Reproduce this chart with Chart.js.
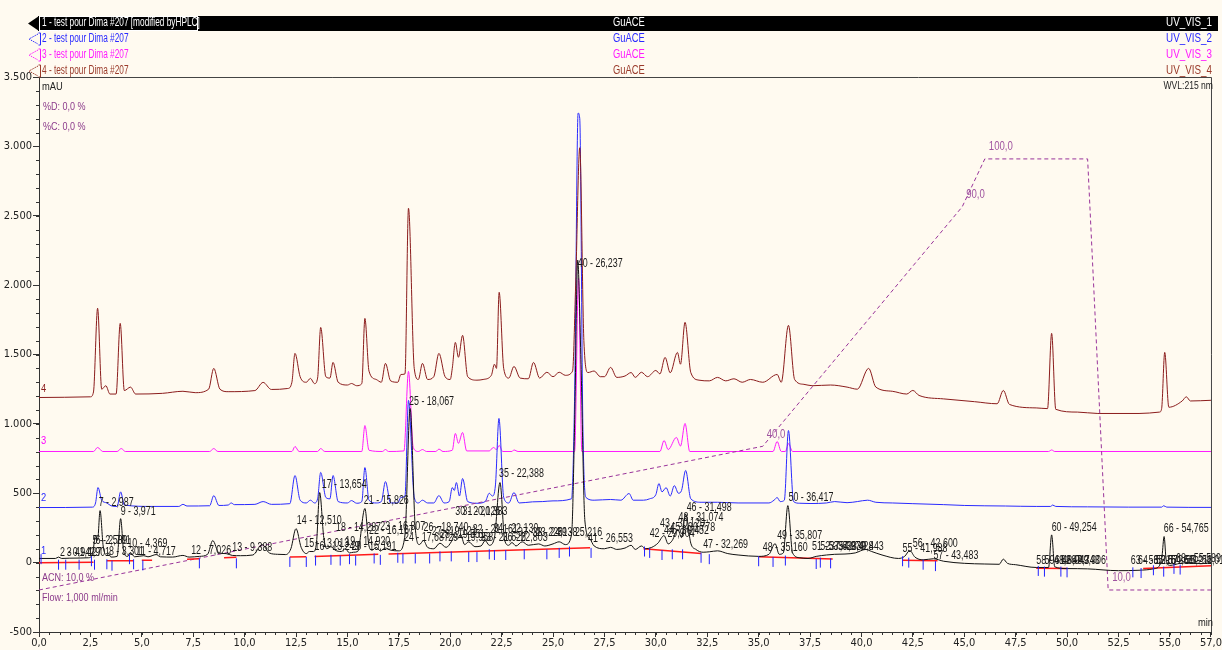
<!DOCTYPE html>
<html>
<head>
<meta charset="utf-8">
<script src="https://cdn.jsdelivr.net/npm/chart.js@4/dist/chart.umd.min.js"></script>
<style>
html,body{margin:0;padding:0;background:#fffaf0;}
canvas{display:block;}
</style>
</head>
<body>
<canvas id="c" width="1222" height="650"></canvas>
<script>
// ---------- tick labels ----------
const xTicks = [0,2.5,5,7.5,10,12.5,15,17.5,20,22.5,25,27.5,30,32.5,35,37.5,40,42.5,45,47.5,50,52.5,55,57];
const yTicks = [-500,0,500,1000,1500,2000,2500,3000,3500];

// ---------- traces: [retention time (min), signal (mAU)] ----------
const trace4 = [
[0,1190],[2.5,1195],[2.65,1230],[2.85,1833],[3.05,1250],[3.25,1275],[3.45,1215],[3.75,1215],[3.95,1724],[4.15,1240],[4.45,1265],[4.7,1215],[6.0,1220],[7.0,1235],[7.6,1225],[8.25,1250],[8.5,1400],[8.8,1250],[9.2,1232],[10.5,1240],[10.9,1299],[11.3,1248],[12.1,1255],[12.3,1300],[12.45,1508],[12.7,1340],[13.0,1300],[13.2,1328],[13.4,1290],[13.55,1330],[13.7,1695],[13.95,1340],[14.15,1330],[14.3,1443],[14.55,1300],[15.0,1280],[15.2,1291],[15.45,1275],[15.7,1290],[15.85,1760],[16.05,1380],[16.4,1320],[16.65,1300],[16.85,1436],[17.1,1310],[17.45,1300],[17.6,1356],[17.8,1360],[17.97,2554],[18.25,1400],[18.45,1320],[18.65,1436],[18.9,1320],[19.2,1340],[19.45,1508],[19.75,1340],[20.0,1320],[20.1,1400],[20.25,1587],[20.4,1480],[20.6,1638],[20.85,1340],[21.3,1315],[21.6,1320],[22.0,1350],[22.15,1430],[22.25,1400],[22.38,1948],[22.6,1400],[22.85,1330],[23.1,1414],[23.4,1330],[23.8,1325],[24.05,1443],[24.35,1330],[24.7,1372],[25.0,1340],[25.3,1372],[25.6,1350],[25.95,1380],[26.1,2000],[26.3,2990],[26.5,1600],[26.7,1370],[27.0,1381],[27.3,1340],[27.5,1340],[27.8,1407],[28.1,1335],[28.5,1345],[28.8,1370],[29.0,1335],[29.3,1372],[29.6,1340],[30.0,1385],[30.2,1360],[30.45,1479],[30.7,1368],[31.05,1515],[31.2,1430],[31.42,1732],[31.7,1370],[32.1,1315],[32.6,1310],[33.0,1335],[33.4,1310],[33.8,1325],[34.2,1300],[34.6,1320],[35.2,1300],[35.9,1356],[36.1,1300],[36.45,1710],[36.75,1320],[37.2,1285],[37.6,1275],[38.5,1280],[39.3,1265],[39.8,1250],[40.35,1400],[40.7,1265],[41.5,1235],[42.2,1215],[42.5,1241],[42.8,1205],[44.0,1180],[45.5,1160],[46.6,1145],[46.9,1241],[47.2,1140],[48.5,1115],[49.05,1110],[49.25,1652],[49.45,1105],[50.5,1085],[51.5,1075],[53.5,1075],[54.5,1085],[54.6,1110],[54.75,1515],[54.95,1120],[55.6,1165],[55.8,1195],[56.0,1165],[57,1170]
];
const trace3 = [
[0,801],[2.65,801],[2.85,830],[3.1,801],[3.8,801],[4.0,822],[4.2,801],[8.3,801],[8.5,822],[8.7,801],[12.3,801],[12.45,837],[12.65,801],[13.55,801],[13.7,822],[13.9,801],[15.7,801],[15.85,988],[16.05,810],[16.7,801],[16.85,815],[17.0,801],[17.75,805],[17.97,1378],[18.2,830],[18.45,801],[18.65,815],[18.85,801],[19.3,801],[19.45,818],[19.65,801],[20.1,810],[20.25,931],[20.4,860],[20.6,938],[20.8,805],[21.9,805],[22.1,830],[22.25,815],[22.38,845],[22.55,801],[23.0,801],[23.1,812],[23.3,801],[26.05,801],[26.24,2050],[26.4,801],[30.2,801],[30.4,880],[30.6,815],[31.0,902],[31.2,840],[31.42,1003],[31.65,801],[35.7,801],[35.9,873],[36.1,801],[36.3,801],[36.45,858],[36.65,801],[49.1,801],[49.25,812],[49.4,801],[57,801]
];
const trace2 = [
[0,397],[2.6,400],[2.75,430],[2.87,541],[3.05,450],[3.3,430],[3.5,410],[3.8,405],[3.97,510],[4.15,415],[5.5,405],[6.8,405],[7.0,420],[7.2,408],[8.3,410],[8.5,483],[8.75,412],[9.2,415],[9.35,430],[9.5,418],[10.5,420],[10.9,440],[11.3,420],[12.2,425],[12.45,628],[12.7,450],[13.0,430],[13.2,450],[13.4,430],[13.55,460],[13.7,650],[13.95,470],[14.15,460],[14.3,628],[14.55,440],[15.0,430],[15.2,447],[15.45,428],[15.7,440],[15.85,685],[16.05,450],[16.4,430],[16.65,440],[16.85,584],[17.1,430],[17.45,430],[17.6,470],[17.8,480],[17.97,1169],[18.25,470],[18.45,430],[18.65,450],[18.9,430],[19.2,430],[19.45,483],[19.7,430],[19.95,440],[20.1,541],[20.2,520],[20.3,577],[20.45,480],[20.6,606],[20.85,440],[21.3,428],[21.7,440],[21.9,500],[22.05,480],[22.2,560],[22.37,1039],[22.6,470],[22.85,430],[23.1,505],[23.35,430],[24.0,438],[24.5,440],[25.0,445],[25.9,460],[26.05,1200],[26.22,3240],[26.3,3200],[26.45,1000],[26.6,470],[27.0,450],[27.8,455],[28.3,450],[28.7,498],[28.9,450],[29.4,450],[29.7,460],[30.0,490],[30.15,570],[30.3,510],[30.5,540],[30.7,480],[30.9,555],[31.1,500],[31.25,520],[31.45,664],[31.7,460],[32.2,435],[33.0,435],[34.0,430],[35.5,430],[35.75,450],[35.9,469],[36.05,440],[36.25,450],[36.45,952],[36.7,440],[37.0,428],[37.5,426],[38.3,430],[38.7,440],[39.3,432],[39.8,440],[40.3,450],[40.7,435],[41.5,430],[42.5,425],[44.0,418],[45.0,412],[47.0,408],[48.5,405],[49.2,405],[49.3,415],[49.45,405],[51.0,402],[53.0,400],[54.6,400],[54.7,410],[54.85,400],[57,398]
];
const trace1 = [
[0,30],[0.8,30],[0.95,40],[1.1,30],[1.5,32],[2.0,33],[2.4,35],[2.6,60],[2.75,195],[2.85,160],[2.97,375],[3.12,120],[3.25,60],[3.35,72],[3.5,40],[3.8,45],[3.97,317],[4.12,80],[4.3,45],[4.45,72],[4.65,42],[5.1,50],[5.3,42],[5.7,58],[5.9,42],[6.5,40],[7.0,52],[7.3,40],[7.8,45],[8.2,60],[8.45,159],[8.75,70],[9.1,65],[9.4,52],[9.8,50],[10.4,55],[10.85,130],[11.2,70],[11.6,60],[12.0,58],[12.25,100],[12.5,245],[12.75,110],[13.0,65],[13.15,80],[13.35,80],[13.5,150],[13.65,505],[13.85,180],[14.0,100],[14.2,115],[14.4,90],[14.7,80],[14.9,100],[15.1,70],[15.3,75],[15.5,80],[15.85,390],[16.05,120],[16.2,90],[16.4,110],[16.6,85],[16.85,105],[17.1,90],[17.5,85],[17.8,200],[18.05,1111],[18.3,250],[18.5,130],[18.7,159],[18.9,110],[19.2,100],[19.5,140],[19.8,110],[20.05,150],[20.2,195],[20.35,170],[20.5,205],[20.7,130],[20.9,150],[21.2,115],[21.5,120],[21.7,159],[21.9,125],[22.15,180],[22.42,577],[22.65,160],[22.85,125],[23.0,145],[23.2,120],[23.5,150],[23.8,125],[24.3,135],[24.6,120],[25.0,135],[25.3,150],[25.6,130],[25.9,200],[26.05,1000],[26.2,2180],[26.35,1500],[26.55,300],[26.8,170],[27.0,120],[27.5,100],[27.8,110],[28.1,95],[28.5,105],[28.8,125],[29.0,95],[29.3,120],[29.5,100],[29.8,110],[30.1,140],[30.4,195],[30.6,135],[30.8,160],[31.07,240],[31.25,180],[31.45,350],[31.7,140],[31.95,95],[32.3,75],[32.6,78],[33.0,85],[33.5,65],[34.0,55],[35.0,45],[35.5,60],[35.8,137],[36.0,60],[36.2,70],[36.42,411],[36.65,70],[37.0,35],[37.4,30],[37.8,45],[38.3,55],[38.7,60],[39.2,62],[39.7,70],[40.2,95],[40.5,80],[41.0,55],[41.8,30],[42.1,45],[42.35,87],[42.6,40],[43.0,20],[43.5,28],[44.0,10],[45.0,-5],[46.0,-10],[46.7,-12],[46.9,25],[47.1,-5],[47.5,-15],[48.5,-35],[49.1,-35],[49.25,200],[49.4,-30],[50.0,-43],[51.0,-45],[52.5,-58],[53.5,-55],[54.2,-45],[54.5,-20],[54.62,50],[54.72,188],[54.82,20],[55.0,-20],[55.5,-5],[56.0,0],[56.5,-8],[57,0]
];
// integration baselines of trace 1 (null = gap)
const baseline1 = [
[0,0],[2.65,2],[2.7,null],[3.3,14],[4.6,14],[4.7,null],[5.0,18],[5.5,18],[5.6,null],[7.2,25],[7.8,28],[7.9,null],[9.0,35],[9.6,38],[9.7,null],[12.2,40],[13.0,42],[13.2,null],[13.4,45],[16.5,60],[16.7,null],[17.0,62],[26.8,108],[27.0,null],[29.4,100],[32.2,65],[32.4,null],[35.0,43],[38.6,26],[38.8,null],[42.0,18],[43.7,14],[43.9,null],[48.5,-40],[50.0,-43],[50.2,null],[53.7,-43],[57,-22]
];
// integration marks of trace 1
const marks1 = [
[0.1,25],[0.95,-15],[1.3,-15],[1.95,-15],[2.55,10],[2.7,-15],[3.3,-12],[3.55,-22],[4.4,25],[4.6,-12],[5.05,-20],[7.8,-5],[9.6,-5],[12.2,5],[13.0,5],[13.45,15],[14.2,20],[14.65,15],[15.1,25],[15.4,15],[16.3,30],[16.6,20],[17.45,35],[17.7,30],[18.3,30],[19.0,30],[19.5,45],[20.05,45],[20.9,40],[21.3,40],[21.9,60],[22.15,55],[22.7,55],[23.6,60],[24.7,60],[25.3,70],[25.8,80],[26.85,70],[29.45,80],[29.7,70],[30.3,55],[30.8,60],[31.3,60],[32.2,35],[32.6,25],[35.0,10],[35.7,5],[36.3,15],[37.8,-10],[38.0,0],[38.5,-5],[42.0,10],[42.3,0],[43.0,-15],[43.6,-25],[48.6,-60],[48.9,-65],[49.7,-65],[50.0,-70],[53.2,-70],[53.6,-75],[54.2,-55],[54.7,-65],[55.2,-45],[55.5,-50]
];
// gradient program (%B)
const gradTime = [0, 35.2, 44.9, 46.0, 51.0, 52.0, 57];
const gradPct  = [10, 40, 90, 100, 100, 10, 10];
const gradLabels = [[35.2,40,"40,0"],[44.9,90,"90,0"],[46.0,100,"100,0"],[52.0,10,"10,0"]];

// peak labels [text, time, mAU]
const peakLabels = [
["2 - 0,942",1.02,72],["3 - 1,427",1.35,72],["4 - 1,901",1.75,72],["5 - 2,589",2.6,160],["6 - 2,701",2.75,160],
["7 - 2,987",2.9,433],["8 - 3,301",3.4,80],["9 - 3,971",3.97,368],["10 - 4,369",4.3,137],["11 - 4,717",4.74,79],
["12 - 7,026",7.4,87],["13 - 9,388",9.4,108],["14 - 12,510",12.54,303],["15 - 13,013",12.9,137],["16 - 13,249",13.4,115],
["17 - 13,654",13.75,563],["18 - 14,287",14.45,253],["19 - 14,920",14.9,150],["20 - 15,191",15.2,115],["21 - 15,826",15.8,447],
["22 - 16,167",16.05,230],["23 - 16,807",16.6,260],["24 - 17,687",17.75,180],["25 - 18,067",18.0,1162],["26 - 18,740",18.7,253],
["27 - 19,121",19.1,220],["28 - 19,551",19.5,200],["29 - 19,958",19.9,180],["30 - 20,126",20.25,368],["31 - 20,383",20.6,368],
["32 - 21,161",21.1,240],["33 - 21,626",21.5,180],["34 - 22,130",22.1,245],["35 - 22,388",22.37,642],["36 - 22,803",22.55,180],
["37 - 23,226",23.3,215],["38 - 24,138",24.0,215],["39 - 25,216",25.2,215],["41 - 26,553",26.7,175],["40 - 26,237",26.2,2157],
["42 - 29,904",29.7,210],["43 - 30,120",30.2,280],["44 - 30,452",30.4,230],["45 - 30,778",30.7,250],["48 - 31,074",31.1,325],
["46 - 31,498",31.5,397],["47 - 32,269",32.3,130],["48 - 35,160",35.2,108],["49 - 35,807",35.9,195],["50 - 36,417",36.45,469],
["51 - 37,623",37.6,115],["52 - 37,979",38.0,115],["53 - 38,428",38.4,115],["54 - 39,443",38.9,115],["55 - 41,988",42.0,101],
["56 - 42,600",42.5,137],["57 - 43,483",43.5,51],["58 - 48,667",48.5,14],["59 - 48,943",48.9,14],["61 - 49,743",49.4,14],
["62 - 49,906",49.7,14],["60 - 49,254",49.25,253],["63 - 53,216",53.1,14],["64 - 53,572",53.45,14],["65 - 54,611",54.2,14],
["66 - 54,765",54.7,245],["67 - 55,211",54.9,14],["68 - 55,589",55.3,25],["69 - 56,012",55.7,14]
];
// trace numbers near the y axis [text, time, mAU, colour]
const traceTags = [["4",0.1,1255,"#8b1c1c"],["3",0.1,880,"#ff00ff"],["2",0.1,469,"#2a2aff"],["1",0.1,87,"#2a2aff"]];

// header rows
const headerRows = [
  {name:"1 - test pour Dima #207 [modified byHPLC]", prog:"GuACE", ch:"UV_VIS_1", color:"#ffffff"},
  {name:"2 - test pour Dima #207", prog:"GuACE", ch:"UV_VIS_2", color:"#2a2aff"},
  {name:"3 - test pour Dima #207", prog:"GuACE", ch:"UV_VIS_3", color:"#ff1aff"},
  {name:"4 - test pour Dima #207", prog:"GuACE", ch:"UV_VIS_4", color:"#9a3a2a"}
];

const toXY = arr => arr.map(p => ({x:p[0], y:p[1]}));
const FONT = '"Liberation Sans", Arial, sans-serif';

function ctxt(ctx, s, x, y, color, size, align, sx){
  ctx.save();
  ctx.font = size + 'px ' + FONT;
  ctx.fillStyle = color;
  ctx.textBaseline = 'middle';
  ctx.textAlign = align || 'left';
  ctx.translate(x, y);
  ctx.scale(sx || 0.78, 1);
  ctx.fillText(s, 0, 0);
  ctx.restore();
}

const decor = {
  id: 'decor',
  beforeDraw(chart){
    const ctx = chart.ctx;
    ctx.save();
    ctx.fillStyle = '#fffaf0';
    ctx.fillRect(0,0,chart.width,chart.height);
    ctx.restore();
  },
  afterDraw(chart){
    const ctx = chart.ctx, a = chart.chartArea;
    const xs = chart.scales.x, ys = chart.scales.y, ps = chart.scales.yPct;
    ctx.save();
    ctx.strokeStyle = '#444'; ctx.lineWidth = 1;
    ctx.beginPath();
    ctx.moveTo(a.left, a.top + 0.5); ctx.lineTo(a.right + 0.5, a.top + 0.5);
    ctx.lineTo(a.right + 0.5, a.bottom);
    ctx.stroke();
    ctx.strokeStyle = '#333';
    ctx.beginPath();
    for (let t = 0; t <= 57.001; t += 0.5) {
      const px = Math.round(xs.getPixelForValue(t)) + 0.5;
      ctx.moveTo(px, a.bottom); ctx.lineTo(px, a.bottom + 3);
    }
    for (let v = -500; v <= 3500; v += 100) {
      const py = Math.round(ys.getPixelForValue(v)) + 0.5;
      ctx.moveTo(a.left, py); ctx.lineTo(a.left - 3, py);
    }
    ctx.stroke();
    ctx.restore();

    // header
    const rowY = [23, 39, 55, 71];
    ctx.save();
    ctx.fillStyle = '#000';
    ctx.fillRect(38, 16, 1180, 15);
    ctx.beginPath(); ctx.moveTo(28, 23.5); ctx.lineTo(39, 16); ctx.lineTo(39, 31); ctx.closePath(); ctx.fill();
    ctx.strokeStyle = '#ffffff'; ctx.lineWidth = 1;
    ctx.strokeRect(39.5, 16.5, 158, 14);
    headerRows.forEach((r, i) => {
      const y = rowY[i];
      if (i > 0) {
        ctx.strokeStyle = r.color; ctx.setLineDash([1.5,1]);
        ctx.beginPath(); ctx.moveTo(38, y - 5); ctx.lineTo(29, y); ctx.lineTo(38, y + 5); ctx.stroke();
        ctx.setLineDash([]);
        ctx.beginPath(); ctx.moveTo(38.5, y - 6); ctx.lineTo(40.5, y - 6); ctx.lineTo(40.5, y + 6); ctx.lineTo(38.5, y + 6); ctx.stroke();
      }
      ctxt(ctx, r.name, 42, y, r.color, 12, 'left', 0.69);
      ctxt(ctx, r.prog, 613, y, r.color, 12, 'left', 0.78);
      ctxt(ctx, r.ch, 1212, y, r.color, 12, 'right', 0.82);
    });
    ctx.restore();

    // axis captions
    ctxt(ctx, 'mAU', 42, 87, '#222', 11, 'left', 0.85);
    ctxt(ctx, 'WVL:215 nm', 1213, 86, '#222', 11, 'right', 0.78);
    ctxt(ctx, '%D: 0,0 %', 43, 107, '#8b3a8b', 11, 'left', 0.82);
    ctxt(ctx, '%C: 0,0 %', 43, 127, '#8b3a8b', 11, 'left', 0.82);
    ctxt(ctx, 'ACN: 10,0 %', 42, 578, '#8b3a8b', 11, 'left', 0.82);
    ctxt(ctx, 'Flow: 1,000 ml/min', 42, 598, '#8b3a8b', 11, 'left', 0.82);
    ctxt(ctx, 'min', 1213, 623, '#222', 11, 'right', 0.85);

    gradLabels.forEach(g => {
      ctxt(ctx, g[2], xs.getPixelForValue(g[0]) + 4, ps.getPixelForValue(g[1]) - 12, '#a055a0', 12, 'left', 0.8);
    });
    traceTags.forEach(t => {
      ctxt(ctx, t[0], xs.getPixelForValue(t[1]), ys.getPixelForValue(t[2]), t[3], 11, 'left', 0.85);
    });
  },
  afterDatasetsDraw(chart){
    const ctx = chart.ctx, xs = chart.scales.x, ys = chart.scales.y;
    peakLabels.forEach(p => {
      ctxt(ctx, p[0], xs.getPixelForValue(p[1]), ys.getPixelForValue(p[2]), '#1a1a1a', 12, 'left', 0.74);
    });
  }
};

const lineDs = (label, data, color, extra) => Object.assign({
  label, data: toXY(data), borderColor: color, backgroundColor: color,
  borderWidth: 1, pointRadius: 0, fill: false, cubicInterpolationMode: 'monotone', tension: 0.4
}, extra || {});

new Chart(document.getElementById('c'), {
  type: 'line',
  data: {
    datasets: [
      { label:'marks', data: toXY(marks1), showLine:false, pointStyle:'line', pointRotation:90,
        pointRadius:5, pointBorderColor:'#2020ff', pointBorderWidth:1, borderColor:'#2020ff', backgroundColor:'#2020ff' },
      lineDs('1', trace1, '#111111'),
      lineDs('baseline', baseline1, '#ff1a1a', {cubicInterpolationMode:'default', tension:0, spanGaps:false, borderWidth:1.5}),
      { label:'gradient', data: gradTime.map((t,i)=>({x:t, y:gradPct[i]})), yAxisID:'yPct',
        borderColor:'#99339a', borderWidth:1, borderDash:[4,3], pointRadius:0, tension:0, fill:false },
      lineDs('4', trace4, '#8b1c1c'),
      lineDs('2', trace2, '#2a2aff'),
      lineDs('3', trace3, '#ff1aff')
    ]
  },
  options: {
    responsive: false,
    animation: false,
    devicePixelRatio: 1,
    layout: { padding: { top: 77, right: 6, left: 0, bottom: 0 } },
    plugins: { legend: { display: false }, tooltip: { enabled: false } },
    scales: {
      x: {
        type: 'linear', min: 0, max: 57,
        afterBuildTicks: s => { s.ticks = xTicks.map(v => ({value: v})); },
        afterFit: s => { s.height = 18; },
        grid: { drawOnChartArea: false, drawTicks: true, tickLength: 5, color: '#333' },
        border: { color: '#333', width: 1 },
        ticks: { padding: 0, maxRotation: 0, autoSkip: false, color: '#222',
          font: { family: '"Liberation Sans Narrow", "DejaVu Sans Condensed", "Liberation Sans"', size: 11 },
          callback: v => v.toFixed(1).replace('.', ',') }
      },
      y: {
        type: 'linear', min: -500, max: 3500,
        afterBuildTicks: s => { s.ticks = yTicks.map(v => ({value: v})); },
        afterFit: s => { s.width = 39; },
        grid: { drawOnChartArea: false, drawTicks: true, tickLength: 6, color: '#333' },
        border: { color: '#333', width: 1 },
        ticks: { padding: 1, autoSkip: false, color: '#222',
          font: { family: '"Liberation Sans Narrow", "DejaVu Sans Condensed", "Liberation Sans"', size: 11 },
          callback: v => (v < 0 ? '-' : '') + Math.abs(v).toLocaleString('de-DE') }
      },
      yPct: { type: 'linear', display: false, min: 1.23, max: 117.1 }
    }
  },
  plugins: [decor]
});
</script>
</body>
</html>
